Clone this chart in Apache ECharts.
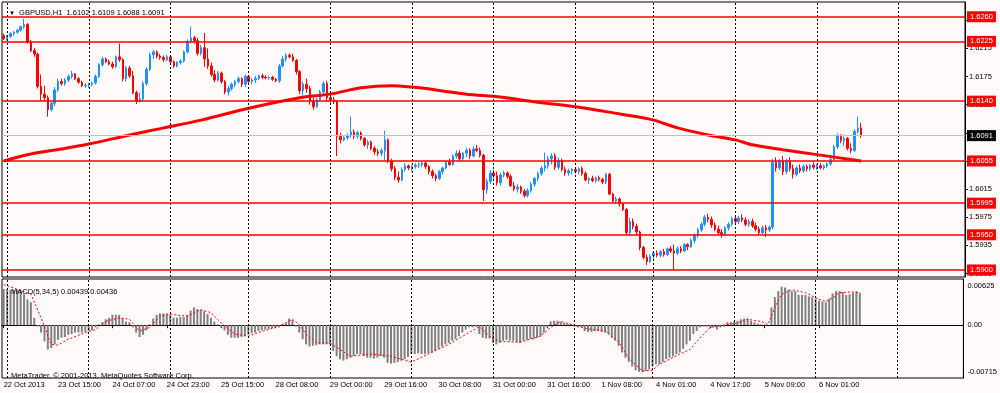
<!DOCTYPE html>
<html><head><meta charset="utf-8">
<script src="https://cdn.jsdelivr.net/npm/echarts@6/dist/echarts.min.js"></script>
<style>html,body{margin:0;padding:0;background:#fffafa}#c{width:1000px;height:393px}</style>
</head><body><div id="c"></div>
<script>
// ---------- DATA ----------
const SLOT_COUNT = 283; // hourly slots incl. empty right shift
const timeLabels = [[0,'22 Oct 2013'],[16,'23 Oct 15:00'],[32,'24 Oct 07:00'],[48,'24 Oct 23:00'],[64,'25 Oct 15:00'],[80,'28 Oct 08:00'],[96,'29 Oct 00:00'],[112,'29 Oct 16:00'],[128,'30 Oct 08:00'],[144,'31 Oct 00:00'],[160,'31 Oct 16:00'],[176,'1 Nov 08:00'],[192,'4 Nov 01:00'],[208,'4 Nov 17:00'],[224,'5 Nov 09:00'],[240,'6 Nov 01:00']];
const dayStarts = [1,25,49,72,96,120,144,168,191,215,239,263];
const priceTicks = [1.5895,1.5935,1.5975,1.6015,1.6055,1.6095,1.6135,1.6175,1.6215,1.6255];
const levels = [1.6260,1.6225,1.6140,1.6055,1.5995,1.5950,1.5900];
const bidPrice = 1.6091;
const macdTicks = [0.00625,0,-0.00715];
// [open, high, low, close]
const ohlc = [
[1.6233,1.6236,1.6227,1.6229],
[1.6229,1.6234,1.6226,1.6232],[1.6232,1.6238,1.6230,1.6236],[1.6236,1.6240,1.6233,1.6238],[1.6238,1.6243,1.6236,1.6241],[1.6241,1.6247,1.6239,1.6246],[1.6246,1.6257,1.6243,1.6249],[1.6249,1.6251,1.6222,1.6224],[1.6224,1.6227,1.6210,1.6212],[1.6212,1.6216,1.6203,1.6207],[1.6207,1.6209,1.6158,1.6161],[1.6161,1.6178,1.6140,1.6150],[1.6150,1.6162,1.6140,1.6145],[1.6145,1.6148,1.6118,1.6128],[1.6128,1.6140,1.6125,1.6137],[1.6137,1.6160,1.6133,1.6156],[1.6156,1.6172,1.6153,1.6168],[1.6168,1.6172,1.6162,1.6165],[1.6165,1.6173,1.6162,1.6170],[1.6170,1.6178,1.6167,1.6175],[1.6175,1.6183,1.6172,1.6179],[1.6179,1.6180,1.6170,1.6172],[1.6172,1.6174,1.6165,1.6167],[1.6167,1.6169,1.6160,1.6162],[1.6162,1.6166,1.6159,1.6163],
[1.6163,1.6166,1.6159,1.6164],[1.6164,1.6168,1.6161,1.6166],[1.6166,1.6178,1.6164,1.6175],[1.6175,1.6194,1.6173,1.6192],[1.6192,1.6203,1.6189,1.6200],[1.6200,1.6202,1.6194,1.6196],[1.6196,1.6199,1.6191,1.6193],[1.6193,1.6196,1.6186,1.6189],[1.6189,1.6205,1.6187,1.6203],[1.6203,1.6222,1.6196,1.6199],[1.6199,1.6201,1.6168,1.6172],[1.6172,1.6190,1.6168,1.6187],[1.6187,1.6190,1.6173,1.6176],[1.6176,1.6183,1.6150,1.6152],[1.6152,1.6155,1.6136,1.6140],[1.6140,1.6152,1.6138,1.6143],[1.6143,1.6168,1.6140,1.6165],[1.6165,1.6188,1.6162,1.6185],[1.6185,1.6209,1.6183,1.6206],[1.6206,1.6213,1.6200,1.6210],[1.6210,1.6212,1.6201,1.6204],[1.6204,1.6207,1.6199,1.6202],[1.6202,1.6205,1.6196,1.6199],[1.6199,1.6206,1.6197,1.6203],
[1.6203,1.6205,1.6193,1.6196],[1.6196,1.6198,1.6187,1.6190],[1.6190,1.6197,1.6188,1.6195],[1.6195,1.6200,1.6192,1.6197],[1.6197,1.6212,1.6195,1.6210],[1.6210,1.6228,1.6208,1.6225],[1.6225,1.6246,1.6222,1.6230],[1.6230,1.6233,1.6222,1.6226],[1.6226,1.6230,1.6205,1.6208],[1.6208,1.6220,1.6205,1.6216],[1.6216,1.6237,1.6189,1.6200],[1.6200,1.6215,1.6186,1.6190],[1.6190,1.6195,1.6175,1.6178],[1.6178,1.6184,1.6167,1.6170],[1.6170,1.6183,1.6168,1.6180],[1.6180,1.6182,1.6165,1.6168],[1.6168,1.6170,1.6150,1.6153],[1.6153,1.6162,1.6148,1.6158],[1.6158,1.6166,1.6155,1.6164],[1.6164,1.6170,1.6160,1.6168],[1.6168,1.6175,1.6165,1.6172],[1.6172,1.6174,1.6160,1.6164],[1.6164,1.6178,1.6160,1.6175],
[1.6175,1.6177,1.6165,1.6168],[1.6168,1.6173,1.6164,1.6170],[1.6170,1.6176,1.6166,1.6172],[1.6172,1.6178,1.6170,1.6176],[1.6176,1.6179,1.6171,1.6174],[1.6174,1.6177,1.6171,1.6173],[1.6173,1.6176,1.6170,1.6174],[1.6174,1.6176,1.6169,1.6171],[1.6171,1.6173,1.6167,1.6169],[1.6169,1.6193,1.6166,1.6190],[1.6190,1.6204,1.6188,1.6200],[1.6200,1.6208,1.6196,1.6205],[1.6205,1.6208,1.6201,1.6203],[1.6203,1.6207,1.6196,1.6198],[1.6198,1.6200,1.6178,1.6182],[1.6182,1.6184,1.6150,1.6155],[1.6155,1.6168,1.6148,1.6164],[1.6164,1.6172,1.6152,1.6158],[1.6158,1.6162,1.6135,1.6140],[1.6140,1.6145,1.6128,1.6132],[1.6132,1.6145,1.6130,1.6142],[1.6142,1.6156,1.6140,1.6153],[1.6153,1.6168,1.6150,1.6165],[1.6165,1.6169,1.6140,1.6145],
[1.6145,1.6150,1.6138,1.6142],[1.6142,1.6146,1.6136,1.6139],[1.6139,1.6141,1.6062,1.6090],[1.6090,1.6095,1.6080,1.6085],[1.6085,1.6090,1.6083,1.6088],[1.6088,1.6094,1.6085,1.6091],[1.6091,1.6118,1.6088,1.6096],[1.6096,1.6100,1.6086,1.6090],[1.6090,1.6098,1.6087,1.6095],[1.6095,1.6097,1.6084,1.6087],[1.6087,1.6089,1.6075,1.6078],[1.6078,1.6085,1.6072,1.6082],[1.6082,1.6084,1.6070,1.6073],[1.6073,1.6076,1.6064,1.6068],[1.6068,1.6072,1.6062,1.6066],[1.6066,1.6073,1.6062,1.6070],[1.6070,1.6098,1.6056,1.6085],[1.6085,1.6087,1.6052,1.6055],[1.6055,1.6058,1.6040,1.6044],[1.6044,1.6048,1.6028,1.6032],[1.6032,1.6040,1.6024,1.6028],[1.6028,1.6046,1.6026,1.6043],[1.6043,1.6052,1.6040,1.6048],[1.6048,1.6050,1.6042,1.6045],
[1.6045,1.6049,1.6040,1.6047],[1.6047,1.6052,1.6044,1.6049],[1.6049,1.6053,1.6045,1.6050],[1.6050,1.6054,1.6046,1.6052],[1.6052,1.6055,1.6044,1.6047],[1.6047,1.6049,1.6036,1.6040],[1.6040,1.6043,1.6030,1.6034],[1.6034,1.6037,1.6026,1.6030],[1.6030,1.6042,1.6028,1.6040],[1.6040,1.6047,1.6036,1.6045],[1.6045,1.6055,1.6043,1.6053],[1.6053,1.6058,1.6048,1.6050],[1.6050,1.6064,1.6048,1.6062],[1.6062,1.6070,1.6058,1.6066],[1.6066,1.6070,1.6055,1.6058],[1.6058,1.6068,1.6055,1.6066],[1.6066,1.6074,1.6060,1.6070],[1.6070,1.6073,1.6058,1.6062],[1.6062,1.6076,1.6060,1.6072],[1.6072,1.6078,1.6068,1.6070],[1.6070,1.6074,1.6060,1.6063],[1.6063,1.6065,1.5998,1.6014],[1.6014,1.6030,1.6008,1.6026],[1.6026,1.6042,1.6022,1.6038],
[1.6038,1.6042,1.6030,1.6034],[1.6034,1.6040,1.6020,1.6024],[1.6024,1.6038,1.6020,1.6035],[1.6035,1.6041,1.6032,1.6038],[1.6038,1.6040,1.6030,1.6033],[1.6033,1.6036,1.6018,1.6020],[1.6020,1.6025,1.6012,1.6015],[1.6015,1.6022,1.6010,1.6018],[1.6018,1.6020,1.6008,1.6012],[1.6012,1.6015,1.6003,1.6006],[1.6006,1.6016,1.6003,1.6013],[1.6013,1.6025,1.6010,1.6022],[1.6022,1.6032,1.6018,1.6030],[1.6030,1.6040,1.6026,1.6037],[1.6037,1.6048,1.6034,1.6045],[1.6045,1.6067,1.6040,1.6048],[1.6048,1.6062,1.6044,1.6058],[1.6058,1.6066,1.6050,1.6062],[1.6062,1.6066,1.6042,1.6046],[1.6046,1.6060,1.6043,1.6056],[1.6056,1.6058,1.6040,1.6043],[1.6043,1.6047,1.6034,1.6038],[1.6038,1.6044,1.6034,1.6041],[1.6041,1.6045,1.6036,1.6043],
[1.6043,1.6046,1.6037,1.6040],[1.6040,1.6046,1.6036,1.6044],[1.6044,1.6047,1.6034,1.6037],[1.6037,1.6040,1.6026,1.6028],[1.6028,1.6032,1.6022,1.6030],[1.6030,1.6034,1.6025,1.6027],[1.6027,1.6033,1.6024,1.6031],[1.6031,1.6034,1.6026,1.6029],[1.6029,1.6031,1.6022,1.6025],[1.6025,1.6038,1.6022,1.6036],[1.6036,1.6038,1.6006,1.6008],[1.6008,1.6010,1.5995,1.5998],[1.5998,1.6004,1.5994,1.6001],[1.6001,1.6003,1.5990,1.5994],[1.5994,1.5996,1.5984,1.5986],[1.5986,1.5988,1.5950,1.5953],[1.5953,1.5974,1.5950,1.5969],[1.5969,1.5973,1.5958,1.5962],[1.5962,1.5966,1.5950,1.5954],[1.5954,1.5956,1.5928,1.5932],[1.5932,1.5934,1.5915,1.5918],[1.5918,1.5922,1.5907,1.5912],[1.5912,1.5922,1.5910,1.5920],
[1.5920,1.5926,1.5915,1.5924],[1.5924,1.5928,1.5918,1.5921],[1.5921,1.5928,1.5918,1.5926],[1.5926,1.5930,1.5919,1.5922],[1.5922,1.5932,1.5920,1.5930],[1.5930,1.5934,1.5924,1.5927],[1.5927,1.5936,1.5900,1.5924],[1.5924,1.5934,1.5921,1.5930],[1.5930,1.5934,1.5924,1.5927],[1.5927,1.5938,1.5926,1.5936],[1.5936,1.5938,1.5928,1.5933],[1.5933,1.5945,1.5931,1.5942],[1.5942,1.5952,1.5938,1.5949],[1.5949,1.5960,1.5946,1.5957],[1.5957,1.5968,1.5954,1.5965],[1.5965,1.5978,1.5962,1.5975],[1.5975,1.5980,1.5968,1.5972],[1.5972,1.5976,1.5960,1.5964],[1.5964,1.5968,1.5955,1.5958],[1.5958,1.5963,1.5950,1.5953],[1.5953,1.5958,1.5946,1.5950],[1.5950,1.5962,1.5948,1.5960],[1.5960,1.5968,1.5956,1.5965],[1.5965,1.5976,1.5962,1.5973],
[1.5973,1.5978,1.5966,1.5969],[1.5969,1.5977,1.5965,1.5974],[1.5974,1.5979,1.5968,1.5971],[1.5971,1.5975,1.5962,1.5965],[1.5965,1.5972,1.5961,1.5969],[1.5969,1.5973,1.5960,1.5963],[1.5963,1.5967,1.5955,1.5958],[1.5958,1.5962,1.5950,1.5953],[1.5953,1.5963,1.5951,1.5960],[1.5960,1.5964,1.5947,1.5957],[1.5957,1.5963,1.5954,1.5961],[1.5961,1.6058,1.5958,1.6053],[1.6053,1.6060,1.6040,1.6045],[1.6045,1.6058,1.6042,1.6055],[1.6055,1.6062,1.6035,1.6040],[1.6040,1.6058,1.6036,1.6055],[1.6055,1.6060,1.6040,1.6044],[1.6044,1.6050,1.6030,1.6036],[1.6036,1.6048,1.6033,1.6045],[1.6045,1.6050,1.6038,1.6041],[1.6041,1.6050,1.6038,1.6047],[1.6047,1.6050,1.6040,1.6044],[1.6044,1.6051,1.6041,1.6049],[1.6049,1.6053,1.6043,1.6046],
[1.6046,1.6051,1.6042,1.6048],[1.6048,1.6052,1.6043,1.6045],[1.6045,1.6050,1.6042,1.6048],[1.6048,1.6053,1.6045,1.6051],[1.6051,1.6060,1.6048,1.6057],[1.6057,1.6078,1.6055,1.6075],[1.6075,1.6094,1.6072,1.6090],[1.6090,1.6093,1.6080,1.6084],[1.6084,1.6090,1.6076,1.6087],[1.6087,1.6089,1.6070,1.6073],[1.6073,1.6080,1.6066,1.6070],[1.6070,1.6100,1.6068,1.6097],[1.6097,1.6118,1.6094,1.6102],[1.6102,1.6109,1.6088,1.6091]
];
// moving average read at sample bars [barIndex, value]
const maPoints = [[0,1.6055],[8,1.6065],[17,1.6072],[25,1.6079],[37,1.6092],[46,1.6101],[58,1.6113],[72,1.6130],[87,1.6145],[96,1.6150],[105,1.6159],[114,1.6162],[120,1.6160],[127,1.6156],[136,1.6150],[146,1.6146],[156,1.6139],[168,1.6132],[182,1.6121],[191,1.6113],[198,1.6102],[207,1.6092],[215,1.6085],[220,1.6078],[229,1.6071],[239,1.6064],[252,1.6055]];
// MACD main histogram per bar
const macdHist = [
0.0049,0.0049,0.0048,0.0048,0.0048,0.0047,0.0042,0.0035,0.0031,0.0010,-0.0002,-0.0010,-0.0022,-0.0033,-0.0031,-0.0026,-0.0020,-0.0017,-0.0016,-0.0013,-0.0012,-0.0010,-0.0010,-0.0010,-0.0009,
-0.0008,-0.0007,-0.0003,0.0001,0.0004,0.0008,0.0010,0.0014,0.0014,0.0014,0.0009,0.0005,0.0004,-0.0003,-0.0010,-0.0016,-0.0013,-0.0007,0.0001,0.0009,0.0014,0.0016,0.0016,0.0016,
0.0014,0.0010,0.0010,0.0011,0.0011,0.0014,0.0020,0.0024,0.0022,0.0021,0.0019,0.0015,0.0010,0.0005,0.0001,-0.0003,-0.0007,-0.0013,-0.0017,-0.0017,-0.0017,-0.0016,-0.0015,
-0.0013,-0.0011,-0.0010,-0.0008,-0.0007,-0.0006,-0.0005,-0.0004,-0.0003,-0.0003,0.0001,0.0003,0.0009,0.0007,-0.0002,-0.0010,-0.0019,-0.0026,-0.0029,-0.0028,-0.0027,-0.0026,-0.0026,-0.0026,
-0.0026,-0.0035,-0.0042,-0.0046,-0.0048,-0.0046,-0.0044,-0.0042,-0.0039,-0.0039,-0.0042,-0.0044,-0.0044,-0.0045,-0.0044,-0.0042,-0.0044,-0.0051,-0.0052,-0.0051,-0.0050,-0.0048,-0.0046,-0.0043,
-0.0039,-0.0039,-0.0038,-0.0039,-0.0039,-0.0038,-0.0037,-0.0035,-0.0032,-0.0029,-0.0026,-0.0024,-0.0021,-0.0019,-0.0015,-0.0010,-0.0006,-0.0003,-0.0003,-0.0002,-0.0012,-0.0017,-0.0018,-0.0018,
-0.0024,-0.0026,-0.0024,-0.0021,-0.0020,-0.0021,-0.0021,-0.0023,-0.0024,-0.0021,-0.0020,-0.0019,-0.0019,-0.0017,-0.0015,-0.0010,-0.0003,0.0005,0.0006,0.0006,0.0005,0.0003,0.0002,0.0001,
-0.0002,-0.0003,-0.0003,-0.0008,-0.0009,-0.0009,-0.0008,-0.0008,-0.0009,-0.0010,-0.0012,-0.0017,-0.0021,-0.0028,-0.0037,-0.0044,-0.0050,-0.0056,-0.0061,-0.0063,-0.0064,-0.0062,-0.0060,
-0.0056,-0.0053,-0.0053,-0.0050,-0.0046,-0.0044,-0.0042,-0.0039,-0.0037,-0.0032,-0.0026,-0.0021,-0.0012,-0.0008,-0.0003,-0.0002,-0.0002,-0.0003,-0.0003,-0.0006,-0.0003,-0.0002,0.0004,0.0004,
0.0005,0.0006,0.0008,0.0009,0.0009,0.0006,0.0004,0.0002,0.0001,0.0001,0.0000,0.0024,0.0038,0.0046,0.0052,0.0051,0.0048,0.0046,0.0046,0.0041,0.0041,0.0041,0.0039,0.0038,
0.0036,0.0033,0.0032,0.0031,0.0036,0.0043,0.0046,0.0046,0.0045,0.0041,0.0042,0.0044,0.0046,0.00439
];
// MACD signal read at sample bars [barIndex, value]
const signalPoints = [[0,0.0055],[8,0.0042],[11,0.0010],[14,-0.0026],[16,-0.0027],[19,-0.0019],[24,-0.0010],[27,-0.0006],[30,0.0005],[34,0.0010],[37,0.0008],[40,-0.0008],[43,-0.0003],[46,0.0012],[49,0.0015],[54,0.0012],[58,0.0021],[61,0.0017],[64,0.0003],[68,-0.0012],[72,-0.0015],[75,-0.0010],[80,-0.0003],[83,0.0003],[85,0.0008],[87,0.0001],[89,-0.0012],[92,-0.0024],[96,-0.0024],[102,-0.0042],[108,-0.0039],[114,-0.0042],[120,-0.0050],[125,-0.0039],[131,-0.0026],[137,-0.0010],[140,-0.0002],[143,-0.0015],[146,-0.0022],[152,-0.0023],[158,-0.0015],[161,-0.0003],[164,0.0005],[167,0.0001],[173,-0.0006],[177,-0.0008],[181,-0.0022],[184,-0.0045],[188,-0.0062],[191,-0.0061],[193,-0.0053],[199,-0.0039],[202,-0.0033],[205,-0.0017],[208,-0.0003],[213,0.0001],[216,0.0003],[219,0.0008],[223,0.0005],[225,0.0001],[227,0.0024],[229,0.0042],[232,0.0048],[236,0.0044],[240,0.0035],[242,0.0032],[244,0.0037],[246,0.0044],[250,0.0045],[252,0.00436]];

// ---------- CHART ----------
const FONT = 'Liberation Sans';
const FS = 7.5;
const xCats = Array.from({length: SLOT_COUNT}, (_, i) => String(i));
const labelMap = {}; timeLabels.forEach(([i, t]) => { labelMap[i] = t; });
const showLabel = (i) => labelMap[i] !== undefined;
const candleData = ohlc.map(r => [r[0], r[3], r[2], r[1]]);

const levelBox = (v, bg) => ({show: true, position: 'end', formatter: v.toFixed(4), backgroundColor: bg, color: '#fff',
  fontFamily: FONT, fontSize: FS, padding: [1, 3, 1, 3], distance: 2, lineHeight: 9});
// one host series per marker line (each line keeps its own style)
const hostSeries = (xi, yi, color, width, type, item, z) => ({
  type: 'line', xAxisIndex: xi, yAxisIndex: yi, data: [], symbol: 'none', silent: true, z: z,
  itemStyle: {color: color}, lineStyle: {color: color},
  markLine: {silent: true, precision: 6, symbol: ['none', 'none'], animation: false,
    lineStyle: {color: color, width: width, type: type, opacity: 1}, label: {show: false}, data: [item]}
});
const markerSeries = [];
dayStarts.forEach(i => {
  markerSeries.push(hostSeries(0, 0, '#000000', 1, [2, 2], {xAxis: i}, 1));
  markerSeries.push(hostSeries(1, 1, '#000000', 1, [2, 2], {xAxis: i}, 1));
});
markerSeries.push(hostSeries(0, 0, '#c0c0c0', 1, 'solid', {yAxis: bidPrice, label: levelBox(bidPrice, '#000000')}, 1));
levels.forEach(v => markerSeries.push(hostSeries(0, 0, '#ff0000', 1.6, 'solid', {yAxis: v, label: levelBox(v, '#ff0000')}, 2)));

const chart = echarts.init(document.getElementById('c'), null, {renderer: 'canvas'});
chart.setOption({
  animation: false,
  backgroundColor: '#fffafa',
  title: [
    {text: '{a|▼}  GBPUSD,H1  1.6102 1.6109 1.6088 1.6091', left: 4, top: 4,
     textStyle: {fontFamily: FONT, fontSize: FS, fontWeight: 'normal', color: '#000', rich: {a: {fontSize: 6, color: '#000'}}}},
    {text: 'MACD(5,34,5) 0.00439 0.00436', left: 6, top: 283,
     textStyle: {fontFamily: FONT, fontSize: FS, fontWeight: 'normal', color: '#000'}},
    {text: 'MetaTrader, © 2001-2013, MetaQuotes Software Corp.', left: 6, top: 367,
     textStyle: {fontFamily: FONT, fontSize: FS, fontWeight: 'normal', color: '#000'}}
  ],
  grid: [
    {left: 2, top: 2, width: 963, height: 275, show: true, borderColor: '#000', borderWidth: 1, backgroundColor: '#fffafa'},
    {left: 2, top: 279, width: 963, height: 99, show: true, borderColor: '#000', borderWidth: 1, backgroundColor: '#fffafa'}
  ],
  xAxis: [
    {type: 'category', gridIndex: 0, data: xCats, boundaryGap: true, show: false},
    {type: 'category', gridIndex: 1, data: xCats, boundaryGap: true,
     axisLine: {show: true, lineStyle: {color: '#000'}},
     axisTick: {show: true, interval: showLabel, alignWithLabel: true, length: 3, lineStyle: {color: '#000'}},
     axisLabel: {show: true, interval: showLabel, formatter: (v, i) => labelMap[i] || '', align: 'left', margin: 3,
       fontFamily: FONT, fontSize: FS, color: '#000'},
     splitLine: {show: false}}
  ],
  yAxis: [
    {type: 'value', gridIndex: 0, position: 'right', min: 1.5890, max: 1.6281, scale: true,
     axisLine: {show: true, lineStyle: {color: '#000'}},
     axisTick: {show: true, customValues: priceTicks, length: 3, lineStyle: {color: '#000'}},
     axisLabel: {show: true, customValues: priceTicks, formatter: v => v.toFixed(4), margin: 4,
       fontFamily: FONT, fontSize: FS, color: '#000'},
     splitLine: {show: false}},
    {type: 'value', gridIndex: 1, position: 'right', min: -0.00715, max: 0.00625,
     axisLine: {show: true, lineStyle: {color: '#000'}},
     axisTick: {show: false},
     axisLabel: {show: true, customValues: macdTicks, margin: 4, fontFamily: FONT, fontSize: FS, color: '#000',
       formatter: v => v > 0 ? '{t|0.00625}' : (v < 0 ? '{b|-0.00715}' : '0.00'),
       rich: {t: {fontFamily: FONT, fontSize: FS, color: '#000', padding: [14, 0, 0, 0]},
              b: {fontFamily: FONT, fontSize: FS, color: '#000', padding: [0, 0, 12, 0]}}},
     splitLine: {show: false}}
  ],
  series: markerSeries.concat([
    {type: 'candlestick', xAxisIndex: 0, yAxisIndex: 0, data: candleData, barWidth: 2, z: 3,
     itemStyle: {color: '#1e90ff', color0: '#ff0000', borderColor: '#1e90ff', borderColor0: '#ff0000', borderWidth: 1}},
    {type: 'line', xAxisIndex: 0, yAxisIndex: 0, data: maPoints, smooth: 0.3, symbol: 'none', z: 4,
     lineStyle: {color: '#ff0000', width: 3}},
    {type: 'bar', xAxisIndex: 1, yAxisIndex: 1, data: macdHist, barWidth: 2, z: 3,
     itemStyle: {color: '#808080'}},
    {type: 'line', xAxisIndex: 1, yAxisIndex: 1, data: signalPoints, symbol: 'none', z: 4,
     lineStyle: {color: '#ff0000', width: 1, type: [2, 2]}}
  ])
});
</script></body></html>
